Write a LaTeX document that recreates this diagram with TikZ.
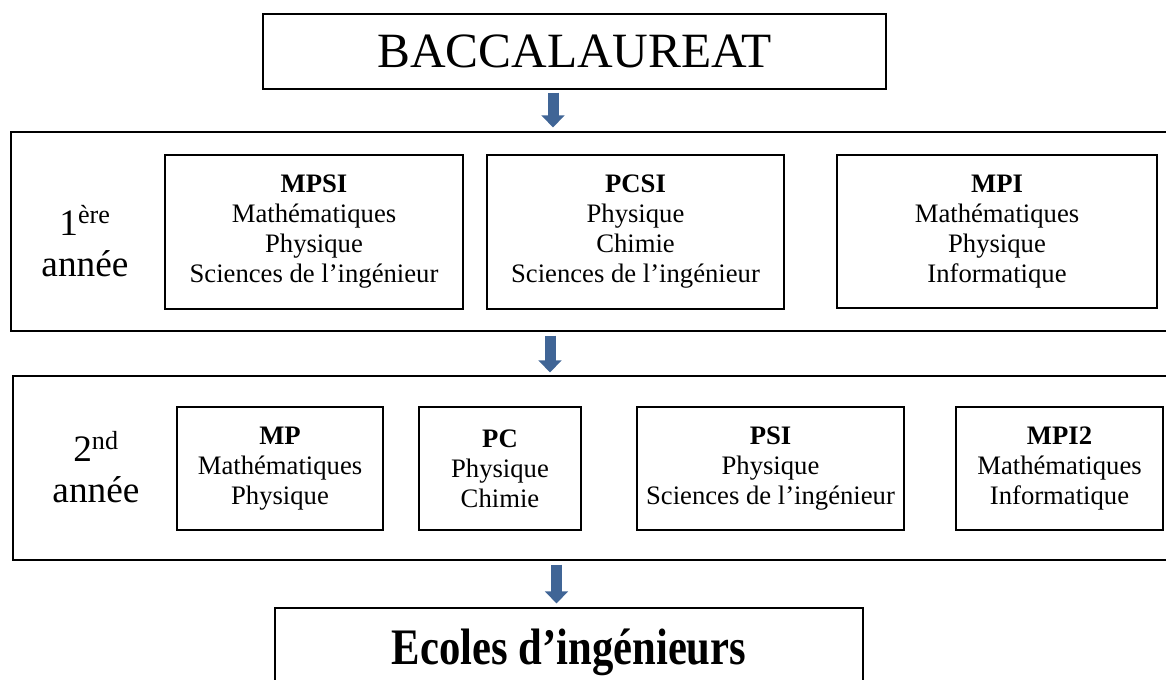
\documentclass[tikz,border=0pt]{standalone}
\usepackage{fontspec}
\setmainfont{Liberation Serif}
\usepackage{graphicx}
\usetikzlibrary{arrows.meta}
\definecolor{arrowblue}{RGB}{64,101,150}
\begin{document}
\begin{tikzpicture}[x=0.75pt,y=-0.75pt,
  frame/.style={draw=black,line width=0.9pt,inner sep=0pt,align=center},
  boxtext/.style={font=\fontsize{20}{22.5}\selectfont},
  yearlabel/.style={align=center,inner sep=0pt,font=\fontsize{28}{31}\selectfont},
  bigarrow/.style={draw=arrowblue,line width=8.25pt,-{Triangle[width=17pt,length=9pt]}}]
\useasboundingbox (0,0) rectangle (1166,679);
\clip (0,0) rectangle (1166,679);
% top box
\node[frame,minimum width=467.25pt,minimum height=56.25pt,font=\fontsize{37}{40}\selectfont] (bacc) at (574.5,51.5) {BACCALAUREAT};
% first year frame
\node[frame,minimum width=891.75pt,minimum height=149.25pt] (y1) at (605.5,231.5) {};
\node[yearlabel] (lab1) at (85,241) {1\textsuperscript{ère}\\année};
\node[frame,boxtext,minimum width=223.5pt,minimum height=115.5pt] (mpsi) at (314,232) {\textbf{MPSI}\\Mathématiques\\Physique\\Sciences de l’ingénieur};
\node[frame,boxtext,minimum width=222.75pt,minimum height=115.5pt] (pcsi) at (635.5,232) {\textbf{PCSI}\\Physique\\Chimie\\Sciences de l’ingénieur};
\node[frame,boxtext,minimum width=240pt,minimum height=114.75pt] (mpi) at (997,231.5) {\textbf{MPI}\\Mathématiques\\Physique\\Informatique};
% second year frame
\node[frame,minimum width=890.25pt,minimum height=138pt] (y2) at (606.5,468) {};
\node[yearlabel] (lab2) at (96,467) {2\textsuperscript{nd}\\année};
\node[frame,boxtext,minimum width=154.5pt,minimum height=92.25pt] (mp) at (280,468.5) {\textbf{MP}\\Mathématiques\\Physique};
\node[frame,boxtext,minimum width=121.5pt,minimum height=92.25pt] (pc) at (500,468.5) {\textbf{PC}\\Physique\\Chimie};
\node[frame,boxtext,minimum width=200.25pt,minimum height=92.25pt] (psi) at (770.5,468.5) {\textbf{PSI}\\Physique\\Sciences de l’ingénieur};
\node[frame,boxtext,minimum width=155.25pt,minimum height=92.25pt] (mpitwo) at (1059.5,468.5) {\textbf{MPI2}\\Mathématiques\\Informatique};
% bottom box
\node[frame,minimum width=441pt,minimum height=69pt] (ecoles) at (569,654) {};
\node[inner sep=0pt,font=\fontsize{32}{36}\selectfont\bfseries] (ecolestext) at (569,652) {\scalebox{1}[1.2]{Ecoles d’ingénieurs}};
% arrows
\coordinate (ax1) at (553,0);
\coordinate (ax2) at (550,0);
\coordinate (ax3) at (556.5,0);
\draw[bigarrow,shorten <=2.25pt,shorten >=3pt] (bacc.south -| ax1) -- (y1.north -| ax1);
\draw[bigarrow,shorten <=3pt,shorten >=2.25pt] (y1.south -| ax2) -- (y2.north -| ax2);
\draw[bigarrow,shorten <=3pt,shorten >=3pt] (y2.south -| ax3) -- (ecoles.north -| ax3);
\end{tikzpicture}
\end{document}
